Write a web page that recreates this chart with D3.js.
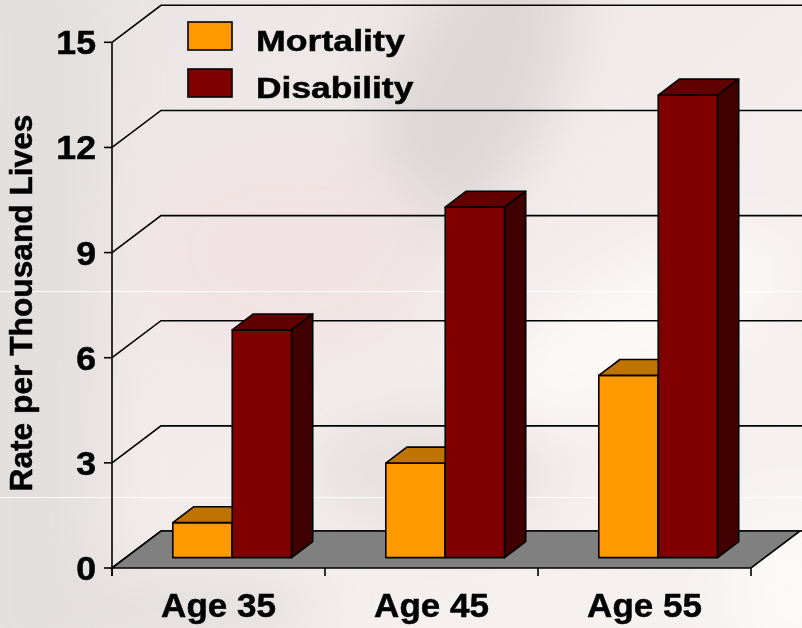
<!DOCTYPE html>
<html>
<head>
<meta charset="utf-8">
<script src="https://cdn.jsdelivr.net/npm/d3@7/dist/d3.min.js"></script>
<style>
  html, body { margin: 0; padding: 0; background: #efeae9; }
  svg { display: block; }
  text { font-family: "Liberation Sans", Arial, Helvetica, sans-serif; font-weight: bold; fill: #000;
         stroke: #000; stroke-width: 0.5px; }
</style>
</head>
<body>
<svg id="chart" width="802" height="628"></svg>
<script>
// Rates per thousand lives by age
const categories = ["Age 35", "Age 45", "Age 55"];
const seriesNames = ["Mortality", "Disability"];
const mortality = [1.0, 2.7, 5.2];
const disability = [6.5, 10.0, 13.2];
const yTicks = [0, 3, 6, 9, 12, 15];
const yTitle = "Rate per Thousand Lives";

const W = 802, H = 628;
const svg = d3.select("#chart");

// ---- soft photographic backdrop ----
const defs = svg.append("defs");
const bg = defs.append("linearGradient").attr("id", "bgGrad")
  .attr("x1", "0").attr("y1", "0").attr("x2", "1").attr("y2", "1");
[["0%", "#e8e5e4"], ["35%", "#f1e9e9"], ["60%", "#f3eeed"], ["100%", "#f6f2f0"]]
  .forEach(([o, c]) => bg.append("stop").attr("offset", o).attr("stop-color", c));
defs.append("filter").attr("id", "soft").attr("x", "-50%").attr("y", "-50%")
  .attr("width", "200%").attr("height", "200%")
  .append("feGaussianBlur").attr("stdDeviation", 28);

const back = svg.append("g");
back.append("rect").attr("width", W).attr("height", H).attr("fill", "url(#bgGrad)");
const blobs = back.append("g").attr("filter", "url(#soft)");
blobs.append("rect").attr("x", -40).attr("y", -40).attr("width", 140).attr("height", 720).attr("fill", "#e2dfde");
blobs.append("ellipse").attr("cx", 470).attr("cy", 90).attr("rx", 80).attr("ry", 170)
  .attr("transform", "rotate(25 470 90)").attr("fill", "#ddd7d7");
blobs.append("ellipse").attr("cx", 290).attr("cy", 250).attr("rx", 150).attr("ry", 110).attr("fill", "#f1e3e3");
blobs.append("ellipse").attr("cx", 640).attr("cy", 330).attr("rx", 170).attr("ry", 60)
  .attr("transform", "rotate(-28 640 330)").attr("fill", "#fbf8f6");
blobs.append("ellipse").attr("cx", 430).attr("cy", 470).attr("rx", 120).attr("ry", 60).attr("fill", "#e6e0df");
blobs.append("ellipse").attr("cx", 790).attr("cy", 590).attr("rx", 60).attr("ry", 90).attr("fill", "#fbf9f8");
blobs.append("ellipse").attr("cx", 160).attr("cy", 610).attr("rx", 160).attr("ry", 40).attr("fill", "#e3dfdd");
// faint seams across the backdrop
back.append("line").attr("x1", 0).attr("x2", W).attr("y1", 291.5).attr("y2", 291.5)
  .attr("stroke", "#ffffff").attr("stroke-width", 1).attr("opacity", 0.9);
back.append("line").attr("x1", 0).attr("x2", W).attr("y1", 497.5).attr("y2", 497.5)
  .attr("stroke", "#ffffff").attr("stroke-width", 1).attr("opacity", 0.9);

// ---- 3-D frame ----
const frontLeft = 112, frontRight = 751;
const depthX = 49, depthY = 37;          // wall offset of the back plane
const barDepthStart = 0.28, barDepth = 0.43; // bar slab position within the depth

const x = d3.scaleBand().domain(categories).range([frontLeft, frontRight]);
const y = d3.scaleLinear().domain([0, 15]).range([568, 42.3]);
const barW = x.bandwidth() * 0.279;

const colors = {
  Mortality:  { front: "#ff9900", top: "#bf7300", side: "#7f4c00" },
  Disability: { front: "#800000", top: "#600000", side: "#400000" }
};

const frame = svg.append("g").attr("stroke", "#000").attr("stroke-width", 1.6).attr("fill", "none");

// gridlines: diagonal on the side wall then across the back wall
yTicks.forEach(v => {
  const yy = y(v);
  frame.append("path")
    .attr("d", `M${frontLeft},${yy}L${frontLeft + depthX},${yy - depthY}L${W + 2},${yy - depthY}`);
});

// floor
svg.append("path")
  .attr("d", `M${frontLeft},${y(0)}L${frontRight},${y(0)}L${frontRight + depthX},${y(0) - depthY}L${frontLeft + depthX},${y(0) - depthY}Z`)
  .attr("fill", "#808080").attr("stroke", "#000").attr("stroke-width", 1.6);

// y axis line and ticks
const axisG = svg.append("g").attr("stroke", "#000").attr("stroke-width", 1.6);
axisG.append("line").attr("x1", frontLeft).attr("x2", frontLeft).attr("y1", y(15)).attr("y2", y(0) + 8);
axisG.selectAll(".yt").data(yTicks).join("line")
  .attr("x1", frontLeft - 8).attr("x2", frontLeft).attr("y1", d => y(d)).attr("y2", d => y(d));
// x axis ticks at band boundaries
const xBounds = categories.map(c => x(c)).concat([frontRight]);
axisG.selectAll(".xt").data(xBounds).join("line")
  .attr("x1", d => d).attr("x2", d => d).attr("y1", y(0)).attr("y2", y(0) + 8);

// y tick labels (slightly widened glyphs)
svg.append("g").selectAll("text").data(yTicks).join("text")
  .attr("transform", d => `translate(96,${y(d) + 12}) scale(1.08,1)`)
  .attr("text-anchor", "end").attr("font-size", 33)
  .text(d => d);

// ---- bars ----
const ox = depthX * barDepthStart, oy = depthY * barDepthStart;
const dx = depthX * barDepth, dy = depthY * barDepth;

function drawBar(g, x0, v, c) {
  const xl = x0 + ox, xr = xl + barW;
  const yb = y(0) - oy, yt = y(v) - oy;
  g.append("path") // front face
    .attr("d", `M${xl},${yb}L${xl},${yt}L${xr},${yt}L${xr},${yb}Z`).attr("fill", c.front);
  g.append("path") // top face
    .attr("d", `M${xl},${yt}L${xl + dx},${yt - dy}L${xr + dx},${yt - dy}L${xr},${yt}Z`).attr("fill", c.top);
  g.append("path") // right side face
    .attr("d", `M${xr},${yb}L${xr},${yt}L${xr + dx},${yt - dy}L${xr + dx},${yb - dy}Z`).attr("fill", c.side);
}

const bars = svg.append("g").attr("stroke", "#000").attr("stroke-width", 1.6).attr("stroke-linejoin", "round");
categories.forEach((cat, i) => {
  const start = x(cat) + (x.bandwidth() - 2 * barW) / 2;
  drawBar(bars, start, mortality[i], colors.Mortality);
  drawBar(bars, start + barW, disability[i], colors.Disability);
});

// category labels
svg.append("g").selectAll("text").data(categories).join("text")
  .attr("transform", d => `translate(${x(d) + x.bandwidth() / 2},617) scale(1.03,1)`)
  .attr("text-anchor", "middle").attr("font-size", 34)
  .text(d => d);

// y axis title
svg.append("text")
  .attr("transform", "translate(32,303) rotate(-90)")
  .attr("text-anchor", "middle").attr("font-size", 32)
  .attr("textLength", 377).attr("lengthAdjust", "spacingAndGlyphs")
  .text(yTitle);

// legend (glyphs widened to fill the legend row)
const legendStretch = { Mortality: 1.19, Disability: 1.18 };
const legend = svg.append("g");
seriesNames.forEach((name, i) => {
  const ly = 22 + i * 47;
  legend.append("rect").attr("x", 188).attr("y", ly).attr("width", 44).attr("height", 28)
    .attr("fill", colors[name].front).attr("stroke", "#000").attr("stroke-width", 1.6);
  legend.append("text")
    .attr("transform", `translate(256,${ly + 29}) scale(${legendStretch[name]},1)`)
    .attr("font-size", 30)
    .text(name);
});
</script>
</body>
</html>
